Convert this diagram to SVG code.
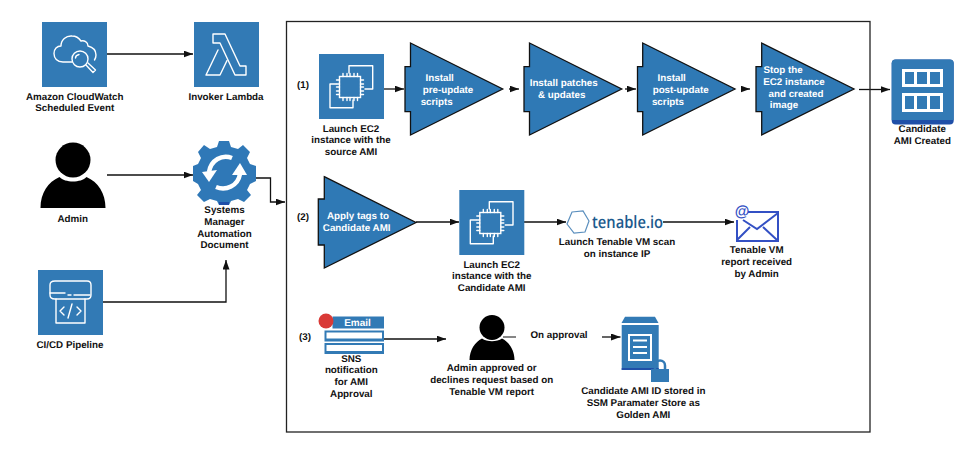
<svg xmlns="http://www.w3.org/2000/svg" width="974" height="452" viewBox="0 0 974 452">
<style>
text{font-family:"Liberation Sans",Arial,sans-serif;font-size:9.8px;font-weight:bold;fill:#111;text-anchor:middle;text-rendering:geometricPrecision}
.w{fill:#fff}
.box{fill:#327ab5}
.penta{fill:#2f79b5;stroke:#111;stroke-width:1.3}
.ln{fill:none;stroke:#111;stroke-width:1.3}
.arrowed{marker-end:url(#ah)}
.ic{fill:none;stroke:#fff;stroke-width:1.4;stroke-linejoin:round;stroke-linecap:round}
</style>
<defs>
<marker id="ah" markerUnits="userSpaceOnUse" markerWidth="10" markerHeight="8" refX="9.500" refY="3.500" orient="auto"><path d="M0 0L9.500 3.500L0 7Z" fill="#111"/></marker>
<g id="ec2">
<rect width="65" height="65" class="box"/>
<path class="ic" d="M30 19V11.700H53.700V35H46M34 46V53.700H11V30H17"/>
<rect x="20.500" y="22.500" width="21" height="21" class="box" stroke="#fff" stroke-width="1.400"/>
<path class="ic" d="M24 22.500V19.500M28 22.500V19.500M31 22.500V19.500M35 22.500V19.500M38.500 22.500V19.500M24 43.500V46.500M28 43.500V46.500M31 43.500V46.500M35 43.500V46.500M38.500 43.500V46.500M20.500 26H17.500M20.500 30H17.500M20.500 33H17.500M20.500 37H17.500M20.500 40.500H17.500M41.500 26H44.500M41.500 30H44.500M41.500 33H44.500M41.500 37H44.500M41.500 40.500H44.500"/>
</g>
<path id="person" d="M-32.500 48C-32.500 33 -25 22 -13.500 17C-8 23 8 23 13.500 17C25 22 32.500 33 32.500 48Z" fill="#000"/>
</defs>

<g id="connectors">
<path class="ln arrowed" d="M107 54H193"/>
<path class="ln arrowed" d="M107 175H193"/>
<path class="ln arrowed" d="M255 178H270.500V202H285"/>
<path class="ln arrowed" d="M103 302H226V260"/>
<path class="ln arrowed" d="M384 89H404"/>
<path class="ln arrowed" d="M509 89H519"/>
<path class="ln arrowed" d="M625 89H636"/>
<path class="ln arrowed" d="M741 89H750"/>
<path class="ln arrowed" d="M859 89.500H890"/>
<path class="ln arrowed" d="M416 222H459"/>
<path class="ln arrowed" d="M524 222H566"/>
<path class="ln arrowed" d="M663 222H734"/>
<path class="ln arrowed" d="M384 339H446"/>
<path d="M503 337H516" fill="none" stroke="#444" stroke-width="1.300"/>
<path class="ln arrowed" d="M602 337H620.500"/>
</g>

<g id="frame"><rect x="286.500" y="21.500" width="583.500" height="410.500" fill="none" stroke="#222" stroke-width="1.300"/></g>

<g id="cloudwatch">
<rect x="42" y="22" width="65" height="65" class="box"/>
<path class="ic" d="M72 62H63C57 62 54 58 54 53.500C54 49 57 46 61 46C61 40 66 35.500 72 36C76 36 79 38 81 41C84 40 88 42 88 46C92 47 96 50 96 55C96 57 95.500 58.500 94.500 60"/>
<circle cx="80" cy="59" r="8" class="ic"/>
<path class="ic" d="M75.500 58C75.500 56 77 55 79 54.500"/>
<path class="ic" d="M86 65L93 72.500L95.500 70L88 63"/>
<text x="74.700" y="99.500">Amazon CloudWatch</text>
<text x="74.700" y="111">Scheduled Event</text>
</g>

<g id="lambda">
<rect x="194" y="22" width="65" height="65" class="box"/>
<path class="ic" d="M213 34H225L240 66H246V75H235L220 43H213Z"/>
<path class="ic" d="M218 50L206 75H220L227 60.500"/>
<text x="226" y="99.500">Invoker Lambda</text>
</g>

<g id="admin">
<circle cx="73" cy="160" r="17.500" fill="#000"/>
<use href="#person" x="73" y="160"/>
<text x="72.700" y="222">Admin</text>
</g>

<g id="ssm">
<path fill="#2f78b7" d="M219 141H229L231 147L238 149L243 145L250 152L247 158L250 164L256 166V181L250 184L247 190L251 195L244 202L238 199L231 201L229 205H219L217 201L210 199L204 202L197 195L201 190L198 184L193 181V166L198 164L201 158L198 152L204 145L210 149L217 147Z"/>
<path fill="#1f4fa8" d="M219 202H229V205H219Z"/>
<path fill="none" stroke="#fff" stroke-width="4.500" d="M232 158C222 154 211 160 209 172"/>
<path fill="#fff" d="M202 172L217 170L209 182Z"/>
<path fill="none" stroke="#fff" stroke-width="4.500" d="M216 187C226 191 238 186 240 174"/>
<path fill="#fff" d="M232 175L247 175L240 163Z"/>
<text x="224.500" y="213">Systems</text>
<text x="224.500" y="225">Manager</text>
<text x="224.500" y="236.700">Automation</text>
<text x="224.500" y="248">Document</text>
</g>

<g id="cicd">
<rect x="38" y="270" width="65" height="65" class="box"/>
<path class="ic" d="M55 281H87Q91 281 91 285V295Q91 299 87 299H55Q50 299 50 295V285Q50 281 55 281Z"/>
<path class="ic" d="M50 293H65M68 295H71M74 295H90M56 299V323H85V299"/>
<path class="ic" d="M64 307L60 311L64 315M77 307L81 311L77 315M72 304L68 318"/>
<text x="70" y="347.700">CI/CD Pipeline</text>
</g>

<g id="ec2-source">
<use href="#ec2" x="319" y="54"/>
<text x="351" y="131.700">Launch EC2</text>
<text x="351" y="143">instance with the</text>
<text x="351" y="154.700">source AMI</text>
</g>

<g id="step-pre">
<path class="penta" d="M410.500 43L502.700 89L410.500 135V111.700H405V66.700H410.500Z"/>
<text class="w" x="439.700" y="81">Install</text>
<text class="w" x="448" y="92.700">pre-update</text>
<text class="w" x="436.700" y="104.700">scripts</text>
</g>

<g id="step-patches">
<path class="penta" d="M529.500 43L621.700 89L529.500 135V111.700H524V66.700H529.500Z"/>
<text class="w" x="563.700" y="86">Install patches</text>
<text class="w" x="561.700" y="97.700">&amp; updates</text>
</g>

<g id="step-post">
<path class="penta" d="M642.700 43L735 89L642.700 135V111.700H637.500V66.700H642.700Z"/>
<text class="w" x="671.700" y="81">Install</text>
<text class="w" x="680.700" y="92.700">post-update</text>
<text class="w" x="668" y="104.700">scripts</text>
</g>

<g id="step-stop">
<path class="penta" d="M761.700 43L854 89L761.700 135V111.700H756V66.700H761.700Z"/>
<text class="w" x="783" y="72.700">Stop the</text>
<text class="w" x="794" y="84.700">EC2 instance</text>
<text class="w" x="796" y="96.500">and created</text>
<text class="w" x="784" y="108">image</text>
</g>

<g id="candidate-ami">
<rect x="891.700" y="59.500" width="62" height="65" rx="4" fill="#1f4fa8"/>
<path d="M891.700 63.500Q891.700 59.500 895.700 59.500H949.700Q953.700 59.500 953.700 63.500V120H891.700Z" fill="#327ab5"/>
<path fill="#fff" d="M902 69H943V87H902ZM902 93H943V112H902Z"/>
<path fill="#327ab5" d="M905 72H914V84H905ZM917 72H927V84H917ZM930 72H940V84H930ZM905 96H914V109H905ZM917 96H927V109H917ZM930 96H940V109H930Z"/>
<text x="922.300" y="132">Candidate</text>
<text x="922.300" y="144">AMI Created</text>
</g>

<text x="303" y="88">(1)</text>
<text x="303" y="220">(2)</text>
<text x="305" y="340">(3)</text>

<g id="step-tags">
<path class="penta" d="M324.300 176.700L416 222.500L324.300 268V245H318.300V199H324.300Z"/>
<text class="w" x="358" y="219">Apply tags to</text>
<text class="w" x="356.700" y="231">Candidate AMI</text>
</g>

<g id="ec2-candidate">
<use href="#ec2" x="459.300" y="190"/>
<text x="491.700" y="267.700">Launch EC2</text>
<text x="491.700" y="279">instance with the</text>
<text x="491.700" y="291">Candidate AMI</text>
</g>

<g id="tenable">
<path d="M572 212L583 211L589 221L585 232L574 233L567 224Z" fill="#fff" stroke="#5b8fbe" stroke-width="1.200"/>
<text x="627.500" y="227.500" textLength="71" lengthAdjust="spacingAndGlyphs" style="font-family:'Open Sans',sans-serif;font-size:17px;font-weight:600;fill:#1c5a8e">tenable.io</text>
<text x="617" y="245">Launch Tenable VM scan</text>
<text x="617" y="256.700">on instance IP</text>
</g>

<g id="email-report">
<path d="M748 212H778V241H737V220" fill="none" stroke="#3350c4" stroke-width="2"/>
<path d="M743 220L757 229L778 213M737 240L750 227M777 240L763 227" fill="none" stroke="#3350c4" stroke-width="2"/>
<text x="742" y="216" style="font-size:15px;fill:#3350c4">@</text>
<text x="756.700" y="253.300">Tenable VM</text>
<text x="756.700" y="265">report received</text>
<text x="756.700" y="277">by Admin</text>
</g>

<g id="sns">
<rect x="332.500" y="316.500" width="51.500" height="12" fill="#327ab5"/>
<rect x="324.500" y="330.500" width="59.500" height="11" fill="#327ab5"/>
<rect x="324.500" y="343" width="59.500" height="11" fill="#327ab5"/>
<rect x="326.500" y="332.500" width="55.500" height="6" fill="#fff"/>
<rect x="326.500" y="345" width="55.500" height="6" fill="#fff"/>
<circle cx="326" cy="321" r="7.500" fill="#d93a36"/>
<text class="w" x="357.500" y="326" style="font-size:10px">Email</text>
<text x="351.300" y="361.700">SNS</text>
<text x="351.300" y="373">notification</text>
<text x="351.300" y="385">for AMI</text>
<text x="351.300" y="396.700">Approval</text>
</g>

<g id="approver">
<circle cx="492" cy="327.500" r="12.500" fill="#000"/>
<path d="M469.500 360C469.500 350 475 342 482 338.500C487 342 497 342 502 338.500C509 342 514.500 350 514.500 360Z" fill="#000"/>
<text x="491.700" y="371">Admin approved or</text>
<text x="491.700" y="383">declines request based on</text>
<text x="491.700" y="394.700">Tenable VM report</text>
</g>

<text id="on-approval" x="559" y="338">On approval</text>

<g id="parameter-store">
<path d="M625 316.700H655L658.500 323H621.500Z" fill="#327ab5"/>
<rect x="621.700" y="325" width="37" height="45" fill="#327ab5"/>
<rect x="621.700" y="368" width="37" height="2" fill="#1f4fa8"/>
<rect x="628" y="334" width="24" height="27" fill="#fff"/>
<rect x="630" y="336" width="20" height="23" fill="#327ab5"/>
<path d="M633 340.500H647M633 347H647M633 353H647" stroke="#fff" stroke-width="2"/>
<rect x="651" y="369" width="18" height="13" fill="#327ab5"/>
<path d="M655 369V365.500A5 5 0 0 1 665 365.500V369" fill="none" stroke="#327ab5" stroke-width="2.500"/>
<text x="643.300" y="394">Candidate AMI ID stored in</text>
<text x="643.300" y="406">SSM Paramater Store as</text>
<text x="643.300" y="417.500">Golden AMI</text>
</g>
</svg>
